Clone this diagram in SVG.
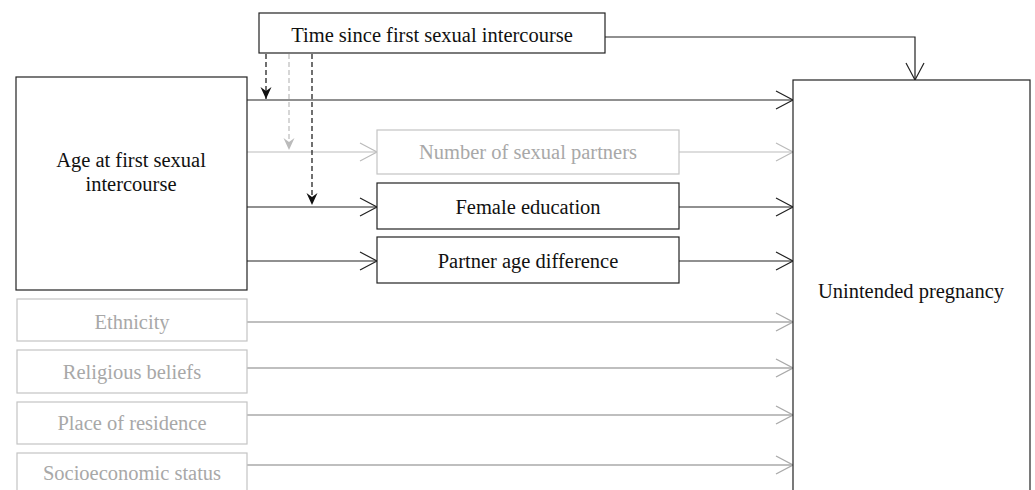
<svg xmlns="http://www.w3.org/2000/svg" width="1035" height="490" viewBox="0 0 1035 490">
<defs>
<style>
text{font-family:"Liberation Serif","Times New Roman",serif;font-size:20.5px;text-anchor:middle}
.bk rect{fill:#fff;stroke:#222;stroke-width:1.2}
.gy rect{fill:#fff;stroke:#c4c4c4;stroke-width:1.2}
.bk text{fill:#111}
.gy text{fill:#a8a8a8}
.l{fill:none;stroke:#222;stroke-width:1.2}
.lg{fill:none;stroke:#aaa;stroke-width:1.4}
.lg2{fill:none;stroke:#bbb;stroke-width:1.2}
.d{fill:none;stroke:#111;stroke-width:1.2;stroke-dasharray:5,3}
.dg{fill:none;stroke:#bbb;stroke-width:1.2;stroke-dasharray:5,3}
</style>
<marker id="ob" markerWidth="24" markerHeight="24" viewBox="-20 -12 22 24" refX="0" refY="0" orient="auto" markerUnits="userSpaceOnUse"><path d="M-17,-9 L0,0 L-17,9" fill="none" stroke="#222" stroke-width="1.2"/></marker>
<marker id="og" markerWidth="24" markerHeight="24" viewBox="-20 -12 22 24" refX="0" refY="0" orient="auto" markerUnits="userSpaceOnUse"><path d="M-17,-9 L0,0 L-17,9" fill="none" stroke="#aaa" stroke-width="1.4"/></marker>
<marker id="og2" markerWidth="24" markerHeight="24" viewBox="-20 -12 22 24" refX="0" refY="0" orient="auto" markerUnits="userSpaceOnUse"><path d="M-17,-9 L0,0 L-17,9" fill="none" stroke="#bbb" stroke-width="1.2"/></marker>
<marker id="fb" markerWidth="16" markerHeight="16" viewBox="-14 -8 16 16" refX="0" refY="0" orient="auto" markerUnits="userSpaceOnUse"><path d="M-12,-5.5 L0,0 L-12,5.5 L-8,0 Z" fill="#111"/></marker>
<marker id="fg" markerWidth="16" markerHeight="16" viewBox="-14 -8 16 16" refX="0" refY="0" orient="auto" markerUnits="userSpaceOnUse"><path d="M-12,-5.5 L0,0 L-12,5.5 L-8,0 Z" fill="#bbb"/></marker>
</defs>

<g id="connectors">
<path class="l" d="M605,37 H915 V80" marker-end="url(#ob)"/>
<path class="l" d="M247,100 H793" marker-end="url(#ob)"/>
<path class="lg2" d="M247,152 H377" marker-end="url(#og2)"/>
<path class="lg2" d="M679,152 H793" marker-end="url(#og2)"/>
<path class="l" d="M247,207 H377" marker-end="url(#ob)"/>
<path class="l" d="M679,207 H793" marker-end="url(#ob)"/>
<path class="l" d="M247,261 H377" marker-end="url(#ob)"/>
<path class="l" d="M679,261 H793" marker-end="url(#ob)"/>
<path class="lg" d="M247,322 H793" marker-end="url(#og)"/>
<path class="lg" d="M247,368 H793" marker-end="url(#og)"/>
<path class="lg" d="M247,415 H793" marker-end="url(#og)"/>
<path class="lg" d="M247,465 H793" marker-end="url(#og)"/>
<path class="d" d="M266,54 V99" marker-end="url(#fb)"/>
<path class="dg" d="M289,54 V150" marker-end="url(#fg)"/>
<path class="d" d="M312,54 V205" marker-end="url(#fb)"/>
</g>

<g id="time" class="bk"><rect x="259" y="13" width="346" height="40"/><text x="432" y="42">Time since first sexual intercourse</text></g>
<g id="age" class="bk"><rect x="16" y="77" width="231" height="213"/><text x="131" y="167">Age at first sexual</text><text x="131" y="191">intercourse</text></g>
<g id="partners" class="gy"><rect x="377" y="130" width="302" height="44"/><text x="528" y="159">Number of sexual partners</text></g>
<g id="education" class="bk"><rect x="377" y="183" width="302" height="46"/><text x="528" y="214">Female education</text></g>
<g id="agediff" class="bk"><rect x="377" y="237" width="302" height="46"/><text x="528" y="268">Partner age difference</text></g>
<g id="ethnicity" class="gy"><rect x="17" y="299" width="230" height="42"/><text x="132" y="329">Ethnicity</text></g>
<g id="religion" class="gy"><rect x="17" y="350" width="230" height="43"/><text x="132" y="379">Religious beliefs</text></g>
<g id="residence" class="gy"><rect x="17" y="402" width="230" height="42"/><text x="132" y="430">Place of residence</text></g>
<g id="ses" class="gy"><rect x="17" y="453" width="230" height="45"/><text x="132" y="480">Socioeconomic status</text></g>
<g id="pregnancy" class="bk"><rect x="793" y="80" width="237" height="420"/><text x="911" y="298">Unintended pregnancy</text></g>
</svg>
